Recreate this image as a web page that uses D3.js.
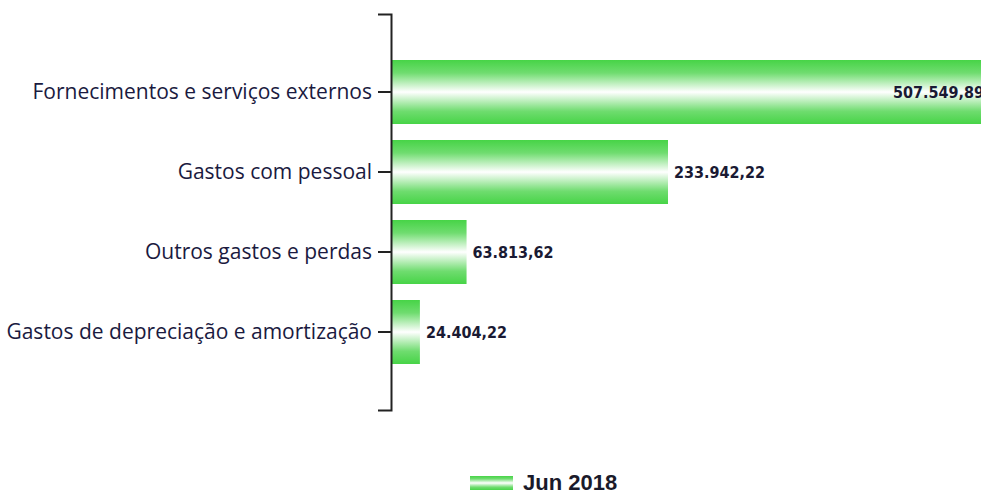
<!DOCTYPE html>
<html>
<head>
<meta charset="utf-8">
<script src="https://cdn.jsdelivr.net/npm/d3@7"></script>
<style>
  body { margin: 0; background: #fff; }
  svg { display: block; }
</style>
</head>
<body>
<svg id="chart" width="981" height="494"></svg>
<script>
// dados do gráfico
const categorias = [
  "Fornecimentos e serviços externos",
  "Gastos com pessoal",
  "Outros gastos e perdas",
  "Gastos de depreciação e amortização"
];
const valores = [507549.89, 233942.22, 63813.62, 24404.22];
const rotulos = ["507.549,89", "233.942,22", "63.813,62", "24.404,22"];
const serie = "Jun 2018";

const svg = d3.select("#chart");
const axisX = 391;

// escalas
const y = d3.scaleBand()
  .domain(categorias)
  .range([14, 410])
  .paddingInner(0.2)
  .paddingOuter(0.575);

const x = d3.scaleLinear()
  .domain([0, 233942.22])
  .range([axisX, 668]);

// gradiente verde -> branco -> verde
const defs = svg.append("defs");
const grad = defs.append("linearGradient")
  .attr("id", "verde")
  .attr("x1", 0).attr("y1", 0).attr("x2", 0).attr("y2", 1);
grad.append("stop").attr("offset", "0%").attr("stop-color", "#47d447");
grad.append("stop").attr("offset", "20%").attr("stop-color", "#6fdc6f");
grad.append("stop").attr("offset", "50%").attr("stop-color", "#ffffff");
grad.append("stop").attr("offset", "80%").attr("stop-color", "#6fdc6f");
grad.append("stop").attr("offset", "100%").attr("stop-color", "#47d447");

// barras
svg.append("g").selectAll("rect")
  .data(valores)
  .join("rect")
  .attr("x", axisX)
  .attr("y", (d, i) => y(categorias[i]))
  .attr("width", d => x(d) - axisX)
  .attr("height", y.bandwidth())
  .attr("fill", "url(#verde)");

// rótulos dos valores (o primeiro fica dentro da barra, cortado na borda como no original)
svg.append("g").selectAll("text")
  .data(valores)
  .join("text")
  .attr("x", (d, i) => i === 0 ? 893 : x(d) + 6)
  .attr("y", (d, i) => y(categorias[i]) + y.bandwidth() / 2)
  .attr("dy", "0.35em")
  .attr("font-family", "'DejaVu Sans Condensed', 'DejaVu Sans', sans-serif")
  .attr("font-weight", "bold")
  .attr("font-size", "16px")
  .attr("fill", "#1a1a33")
  .text((d, i) => rotulos[i]);

// eixo das categorias
const eixo = svg.append("g")
  .attr("transform", `translate(${axisX},0)`)
  .call(d3.axisLeft(y).tickSizeInner(13).tickSizeOuter(13).tickPadding(6));
eixo.select(".domain").attr("stroke", "#222").attr("stroke-width", 2);
eixo.selectAll(".tick line").attr("stroke", "#222").attr("stroke-width", 2);
eixo.selectAll(".tick text")
  .attr("font-family", "'Open Sans', 'Noto Sans', sans-serif")
  .attr("font-size", "21px")
  .attr("fill", "#1a1a40");

// legenda
const leg = svg.append("g").attr("transform", "translate(470,476)");
leg.append("rect")
  .attr("width", 43).attr("height", 14)
  .attr("fill", "url(#verde)");
leg.append("text")
  .attr("x", 53).attr("y", 6)
  .attr("dy", "0.36em")
  .attr("font-family", "'Liberation Sans', Arial, sans-serif")
  .attr("font-weight", "bold")
  .attr("font-size", "22px")
  .attr("fill", "#1a1a2a")
  .text(serie);
</script>
</body>
</html>
